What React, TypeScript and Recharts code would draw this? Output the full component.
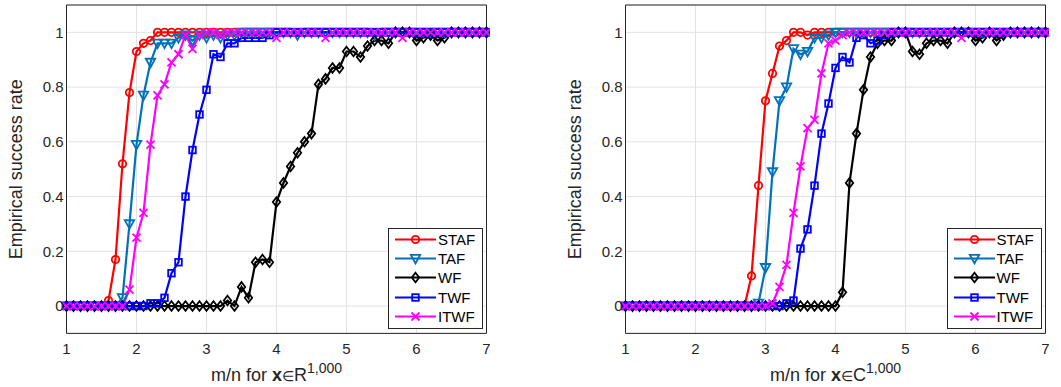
import React from 'react';
import {
  LineChart,
  Line,
  XAxis,
  YAxis,
  CartesianGrid,
  ReferenceArea,
  Legend
} from 'recharts';

const FONT = '"Liberation Sans", Arial, Helvetica, sans-serif';

// m/n ratios (x axis), one point every 0.1
const X_VALUES = [
  1.0, 1.1, 1.2, 1.3, 1.4, 1.5, 1.6, 1.7, 1.8, 1.9,
  2.0, 2.1, 2.2, 2.3, 2.4, 2.5, 2.6, 2.7, 2.8, 2.9,
  3.0, 3.1, 3.2, 3.3, 3.4, 3.5, 3.6, 3.7, 3.8, 3.9,
  4.0, 4.1, 4.2, 4.3, 4.4, 4.5, 4.6, 4.7, 4.8, 4.9,
  5.0, 5.1, 5.2, 5.3, 5.4, 5.5, 5.6, 5.7, 5.8, 5.9,
  6.0, 6.1, 6.2, 6.3, 6.4, 6.5, 6.6, 6.7, 6.8, 6.9,
  7.0
];
const X_TICKS = [1, 2, 3, 4, 5, 6, 7];
const Y_TICKS = [0, 0.2, 0.4, 0.6, 0.8, 1];

// ---- real case (x in R^1000) ----
const STAF_R = [
  0, 0, 0, 0, 0, 0, 0.02, 0.17, 0.52, 0.78,
  0.93, 0.96, 0.97, 1, 1, 1, 1, 1, 1, 1,
  1, 1, 1, 1, 1, 1, 1, 1, 1, 1,
  1, 1, 1, 1, 1, 1, 1, 1, 1, 1,
  1, 1, 1, 1, 1, 1, 1, 1, 1, 1,
  1, 1, 1, 1, 1, 1, 1, 1, 1, 1,
  1
];
const TAF_R = [
  0, 0, 0, 0, 0, 0, 0, 0, 0.03, 0.3,
  0.59, 0.77, 0.89, 0.96, 0.96, 0.96, 0.98, 0.99, 0.97, 0.99,
  0.98, 0.99, 0.98, 0.99, 0.99, 1, 1, 1, 1, 1,
  1, 1, 1, 0.99, 1, 1, 1, 1, 1, 1,
  1, 1, 1, 1, 0.99, 1, 1, 1, 1, 1,
  1, 1, 1, 1, 1, 1, 1, 1, 1, 1,
  1
];
const WF_R = [
  0, 0, 0, 0, 0, 0, 0, 0, 0, 0,
  0, 0, 0, 0, 0, 0, 0, 0, 0, 0,
  0, 0, 0, 0.02, 0, 0.07, 0.03, 0.16, 0.17, 0.16,
  0.38, 0.45, 0.51, 0.56, 0.6, 0.63, 0.81, 0.83, 0.87, 0.87,
  0.93, 0.93, 0.91, 0.95, 0.97, 0.97, 0.96, 1, 1, 1,
  0.97, 0.98, 0.99, 0.97, 0.98, 1, 1, 1, 1, 1,
  1
];
const TWF_R = [
  0, 0, 0, 0, 0, 0, 0, 0, 0, 0,
  0, 0, 0.01, 0.01, 0.03, 0.12, 0.16, 0.4, 0.57, 0.7,
  0.79, 0.92, 0.91, 0.96, 0.96, 0.98, 0.98, 0.98, 0.98, 0.99,
  1, 1, 1, 1, 1, 1, 1, 1, 1, 1,
  1, 1, 1, 1, 1, 1, 1, 1, 1, 1,
  1, 1, 1, 1, 1, 1, 1, 1, 1, 1,
  1
];
const ITWF_R = [
  0, 0, 0, 0, 0, 0, 0, 0, 0, 0.06,
  0.25, 0.34, 0.59, 0.77, 0.81, 0.89, 0.92, 0.99, 0.94, 0.99,
  1, 1, 0.99, 1, 1, 1, 1, 1, 1, 1,
  0.98, 1, 1, 1, 1, 1, 1, 0.98, 1, 1,
  1, 1, 1, 1, 1, 1, 1, 1, 0.98, 1,
  1, 1, 1, 1, 1, 1, 1, 1, 1, 1,
  1
];

// ---- complex case (x in C^1000) ----
const STAF_C = [
  0, 0, 0, 0, 0, 0, 0, 0, 0, 0,
  0, 0, 0, 0, 0, 0, 0, 0, 0.11, 0.44,
  0.75, 0.85, 0.95, 0.97, 1, 1, 0.99, 1, 1, 1,
  1, 1, 1, 1, 1, 1, 1, 1, 1, 1,
  1, 1, 1, 1, 1, 1, 1, 1, 1, 1,
  1, 1, 1, 1, 1, 1, 1, 1, 1, 1,
  1
];
const TAF_C = [
  0, 0, 0, 0, 0, 0, 0, 0, 0, 0,
  0, 0, 0, 0, 0, 0, 0, 0, 0, 0.01,
  0.14, 0.49, 0.75, 0.8, 0.94, 0.92, 0.93, 0.98, 0.98, 0.99,
  1, 1, 1, 1, 1, 1, 1, 1, 1, 1,
  1, 1, 1, 1, 1, 1, 1, 1, 1, 1,
  1, 1, 1, 1, 1, 1, 1, 1, 1, 1,
  1
];
const WF_C = [
  0, 0, 0, 0, 0, 0, 0, 0, 0, 0,
  0, 0, 0, 0, 0, 0, 0, 0, 0, 0,
  0, 0, 0, 0, 0, 0, 0, 0, 0, 0,
  0, 0.05, 0.45, 0.63, 0.79, 0.91, 0.96, 0.97, 0.97, 1,
  1, 0.93, 0.92, 0.96, 0.97, 0.97, 0.96, 1, 1, 1,
  0.97, 0.98, 1, 0.97, 0.99, 1, 1, 1, 1, 1,
  1
];
const TWF_C = [
  0, 0, 0, 0, 0, 0, 0, 0, 0, 0,
  0, 0, 0, 0, 0, 0, 0, 0, 0, 0,
  0, 0, 0, 0.01, 0.02, 0.21, 0.28, 0.44, 0.63, 0.74,
  0.87, 0.91, 0.89, 0.98, 0.99, 0.96, 0.97, 0.99, 1, 1,
  1, 1, 1, 1, 1, 1, 1, 1, 1, 1,
  1, 1, 1, 1, 1, 1, 1, 1, 1, 1,
  1
];
const ITWF_C = [
  0, 0, 0, 0, 0, 0, 0, 0, 0, 0,
  0, 0, 0, 0, 0, 0, 0, 0, 0, 0,
  0, 0.01, 0.07, 0.15, 0.34, 0.51, 0.65, 0.68, 0.85, 0.96,
  0.97, 0.99, 1, 1, 1, 1, 1, 1, 1, 1,
  1, 1, 1, 1, 1, 1, 1, 1, 0.98, 1,
  1, 1, 1, 1, 1, 1, 1, 1, 1, 1,
  1
];

type MarkerKind = 'circle' | 'triangle' | 'diamond' | 'square' | 'cross';

const SERIES: { key: string; name: string; color: string; marker: MarkerKind }[] = [
  { key: 'staf', name: 'STAF', color: '#FF0000', marker: 'circle' },
  { key: 'taf', name: 'TAF', color: '#0072BD', marker: 'triangle' },
  { key: 'wf', name: 'WF', color: '#000000', marker: 'diamond' },
  { key: 'twf', name: 'TWF', color: '#0000FF', marker: 'square' },
  { key: 'itwf', name: 'ITWF', color: '#FF00FF', marker: 'cross' }
];

const buildRows = (staf: number[], taf: number[], wf: number[], twf: number[], itwf: number[]) =>
  X_VALUES.map((x, i) => ({ x, staf: staf[i], taf: taf[i], wf: wf[i], twf: twf[i], itwf: itwf[i] }));

const REAL_ROWS = buildRows(STAF_R, TAF_R, WF_R, TWF_R, ITWF_R);
const COMPLEX_ROWS = buildRows(STAF_C, TAF_C, WF_C, TWF_C, ITWF_C);

// MATLAB-like open markers
const Marker = ({ kind, cx, cy, color }: { kind: MarkerKind; cx: number; cy: number; color: string }) => {
  const common = { fill: 'none', stroke: color, strokeWidth: 1.8 };
  switch (kind) {
    case 'circle':
      return <circle cx={cx} cy={cy} r={3.7} {...common} />;
    case 'triangle':
      return <polygon points={`${cx - 4.7},${cy - 3.7} ${cx + 4.7},${cy - 3.7} ${cx},${cy + 4.8}`} {...common} />;
    case 'diamond':
      return <polygon points={`${cx},${cy - 4.8} ${cx + 3.7},${cy} ${cx},${cy + 4.8} ${cx - 3.7},${cy}`} {...common} />;
    case 'square':
      return <rect x={cx - 3.3} y={cy - 3.3} width={6.6} height={6.6} {...common} />;
    default:
      return (
        <path
          d={`M${cx - 4},${cy - 4}L${cx + 4},${cy + 4}M${cx - 4},${cy + 4}L${cx + 4},${cy - 4}`}
          {...common}
        />
      );
  }
};

const LegendBox = () => (
  <div style={styles.legend}>
    {SERIES.map(s => (
      <div key={s.key} style={styles.legendRow}>
        <svg width={42} height={19} style={{ display: 'block', flex: 'none' }}>
          <line x1={0} y1={9.5} x2={41} y2={9.5} stroke={s.color} strokeWidth={2.2} />
          <Marker kind={s.marker} cx={20.5} cy={9.5} color={s.color} />
        </svg>
        <span style={{ marginLeft: 1 }}>{s.name}</span>
      </div>
    ))}
  </div>
);

const Panel: React.FC<{ rows: typeof REAL_ROWS; field: string; left: number }> = ({ rows, field, left }) => {
  const renderXLabel = (props: any) => {
    const vb = props.viewBox || { x: 66.5, y: 333.4, width: 420, height: 53.6 };
    return (
      <text x={vb.x + vb.width / 2} y={vb.y + 47.5} textAnchor="middle" fontSize={18} fill="#262626">
        m/n for <tspan fontWeight="bold">x</tspan>
        <tspan fontSize={14}>∈</tspan>
        {field}
        <tspan fontSize={14} dy={-8}>1,000</tspan>
      </text>
    );
  };

  const renderYLabel = () => (
    <text
      x={22.5}
      y={169.2}
      transform="rotate(-90, 22.5, 169.2)"
      textAnchor="middle"
      fontSize={18}
      fill="#262626"
    >
      Empirical success rate
    </text>
  );

  return (
    <div style={{ position: 'absolute', left, top: 0 }}>
      <LineChart width={490} height={387} data={rows} margin={{ top: 5, right: 3.5, bottom: 0, left: 0 }}>
        <CartesianGrid stroke="#e2e2e2" strokeWidth={1} />
        <XAxis
          type="number"
          dataKey="x"
          domain={[1, 7]}
          ticks={X_TICKS}
          interval={0}
          height={53.6}
          axisLine={false}
          tickLine={false}
          tickMargin={4}
          tick={{ fill: '#262626', fontSize: 15 }}
          label={{ content: renderXLabel }}
        />
        <YAxis
          type="number"
          domain={[-0.1, 1.1]}
          ticks={Y_TICKS}
          interval={0}
          width={66.5}
          axisLine={false}
          tickLine={false}
          tickSize={3}
          tickMargin={0}
          tick={{ fill: '#262626', fontSize: 15 }}
          tickFormatter={(v: number) => String(parseFloat(v.toFixed(1)))}
          label={{ content: renderYLabel }}
        />
        <ReferenceArea x1={1} x2={7} y1={-0.1} y2={1.1} fill="none" stroke="#262626" strokeWidth={1} ifOverflow="visible" />
        {SERIES.map(s => (
          <Line
            key={s.key}
            type="linear"
            dataKey={s.key}
            name={s.name}
            stroke={s.color}
            strokeWidth={2.2}
            isAnimationActive={false}
            activeDot={false}
            dot={(p: any) => (
              <Marker key={`${s.key}-${p.index}`} kind={s.marker} cx={p.cx} cy={p.cy} color={s.color} />
            )}
          />
        ))}
        <Legend
          layout="horizontal"
          verticalAlign="middle"
          align="center"
          content={() => <LegendBox />}
          wrapperStyle={{ left: 388, top: 228, width: 95, height: 101 }}
        />
      </LineChart>
    </div>
  );
};

export default function App() {
  return (
    <div style={styles.page}>
      <Panel rows={REAL_ROWS} field="R" left={0} />
      <Panel rows={COMPLEX_ROWS} field="C" left={558.5} />
    </div>
  );
}

const styles: Record<string, React.CSSProperties> = {
  page: {
    position: 'absolute',
    left: 0,
    top: 0,
    width: 1061,
    height: 387,
    background: '#fff',
    fontFamily: FONT,
    overflow: 'hidden'
  },
  legend: {
    boxSizing: 'border-box',
    width: 95,
    height: 101,
    border: '1px solid #262626',
    background: '#fff',
    padding: '1px 0 0 6px',
    fontSize: 15,
    color: '#000'
  },
  legendRow: {
    display: 'flex',
    alignItems: 'center',
    height: 19.2,
    lineHeight: '19.2px'
  }
};
